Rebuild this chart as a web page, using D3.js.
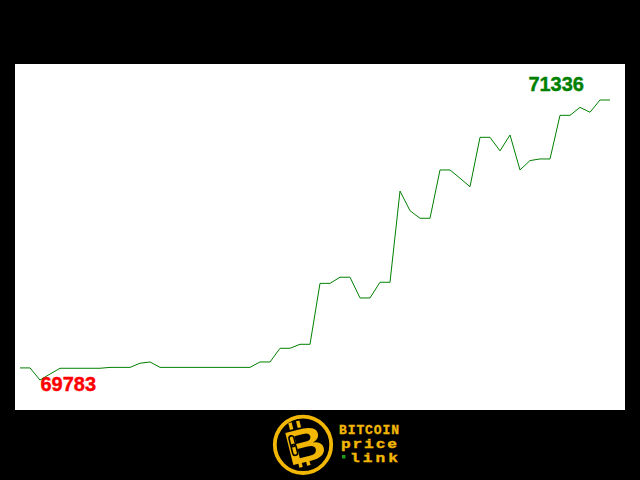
<!DOCTYPE html>
<html>
<head>
<meta charset="utf-8">
<script src="https://cdn.jsdelivr.net/npm/d3@7"></script>
<style>
html,body{margin:0;padding:0;background:#000;}
svg{display:block;}
</style>
</head>
<body>
<script>
// Price series (BTC/USD), 60 samples
const prices = [
  69850, 69850, 69783, 69816, 69848, 69848, 69848, 69848, 69848, 69853,
  69853, 69853, 69876, 69883, 69853, 69853, 69853, 69853, 69853, 69853,
  69853, 69853, 69853, 69853, 69883, 69883, 69959, 69959, 69981, 69981,
  70319, 70319, 70353, 70353, 70238, 70238, 70325, 70325, 70831, 70722,
  70680, 70680, 70948, 70948, 70902, 70855, 71129, 71129, 71054, 71142,
  70948, 71000, 71009, 71009, 71251, 71251, 71295, 71268, 71336, 71336
];
const minLabel = "69783";
const maxLabel = "71336";
const logoLines = ["BITCOIN", "price", "link"];

const W = 640, H = 480;
const svg = d3.select("body").append("svg").attr("width", W).attr("height", H);

svg.append("rect").attr("width", W).attr("height", H).attr("fill", "#000");
svg.append("rect").attr("x", 15).attr("y", 64).attr("width", 610).attr("height", 346).attr("fill", "#fff");

const x = d3.scaleLinear().domain([0, prices.length - 1]).range([20, 610]);
const y = d3.scaleLinear().domain([d3.min(prices), d3.max(prices)]).range([380, 100]);

const line = d3.line().x((d, i) => x(i)).y(d => y(d));
svg.append("path").datum(prices).attr("d", line)
  .attr("fill", "none").attr("stroke", "#008000").attr("stroke-width", 1);

const minI = prices.indexOf(d3.min(prices));
const maxI = prices.indexOf(d3.max(prices));

svg.append("text").text(minLabel)
  .attr("x", x(minI) + 0.5).attr("y", y(prices[minI]) + 11)
  .attr("font-family", "Liberation Sans, Arial, sans-serif").attr("font-weight", "bold")
  .attr("font-size", 20).attr("fill", "#ff0000")
  .attr("stroke", "#ff0000").attr("stroke-width", 0.4);

svg.append("text").text(maxLabel)
  .attr("x", x(maxI) - 16).attr("y", y(prices[maxI]) - 9.5)
  .attr("text-anchor", "end")
  .attr("font-family", "Liberation Sans, Arial, sans-serif").attr("font-weight", "bold")
  .attr("font-size", 20).attr("fill", "#008000")
  .attr("stroke", "#008000").attr("stroke-width", 0.4);

// Logo
const gold = "#f2b705";
const logo = svg.append("g");
logo.append("circle").attr("cx", 303).attr("cy", 444.8).attr("r", 28.2)
  .attr("fill", "#000").attr("stroke", gold).attr("stroke-width", 3.8);
const bg = logo.append("g").attr("transform", "translate(304,445) rotate(-14)");
// bitcoin bars
[[-10, -25, 3.5, 7], [-2, -25, 3.5, 7], [-10, 15, 3.5, 6], [-2, 15, 3.5, 6]].forEach(r => {
  bg.append("rect").attr("x", r[0]).attr("y", r[1]).attr("width", r[2]).attr("height", r[3]).attr("fill", gold);
});
bg.append("text").text("B").attr("x", 0).attr("y", 0)
  .attr("transform", "translate(1,17) scale(1.15,1)")
  .attr("text-anchor", "middle")
  .attr("font-family", "Liberation Sans, Arial, sans-serif").attr("font-weight", "900")
  .attr("font-size", 48).attr("fill", gold);
// chain link inside stem
bg.append("rect").attr("x", -13).attr("y", -12).attr("width", 5).attr("height", 11).attr("rx", 2.5)
  .attr("fill", "none").attr("stroke", "#000").attr("stroke-width", 1.6);
bg.append("rect").attr("x", -13).attr("y", -3).attr("width", 5).attr("height", 11).attr("rx", 2.5)
  .attr("fill", "none").attr("stroke", "#000").attr("stroke-width", 1.6);

const lens = [60, 56, 48];
const xs = [339, 341, 350];
const ys = [434, 447.5, 461.5];
const sx = [1, 1.35, 1.35];
const fs = [13, 12, 12];
logoLines.forEach((t, i) => {
  logo.append("text").text(t)
    .attr("transform", `translate(${xs[i]},${ys[i]}) scale(${sx[i]},1)`)
    .attr("textLength", lens[i] / sx[i]).attr("lengthAdjust", "spacing")
    .attr("font-family", "Liberation Mono, Courier New, monospace").attr("font-weight", "bold")
    .attr("font-size", fs[i]).attr("fill", gold)
    .attr("stroke", gold).attr("stroke-width", 0.35);
});
logo.append("rect").attr("x", 342).attr("y", 455).attr("width", 3.5).attr("height", 3.5).attr("fill", "#1a9a1a");
</script>
</body>
</html>
